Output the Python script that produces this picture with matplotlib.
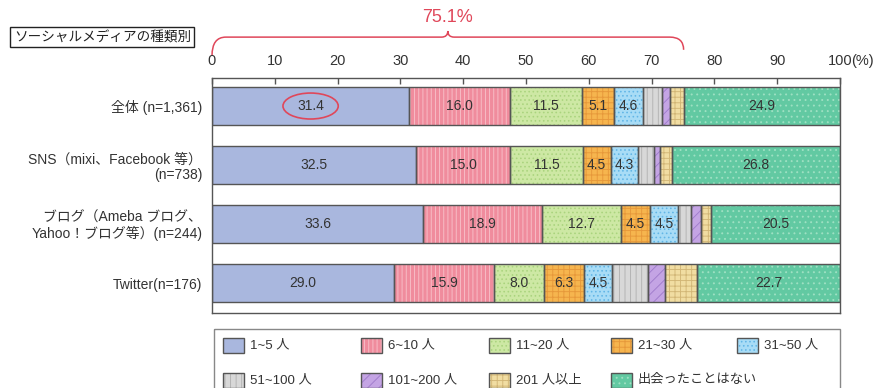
import matplotlib
matplotlib.use("Agg")
import matplotlib.pyplot as plt
from matplotlib.patches import Rectangle, Ellipse, PathPatch
from matplotlib.path import Path
import matplotlib.transforms as mtransforms

plt.rcParams['font.family'] = ['Liberation Sans', 'Noto Sans CJK JP', 'DejaVu Sans']
plt.rcParams['hatch.linewidth'] = 0.65

# ---------------- data ----------------
categories = ["全体 (n=1,361)",
              "SNS（mixi、Facebook 等）\n(n=738)",
              "ブログ（Ameba ブログ、\nYahoo！ブログ等）(n=244)",
              "Twitter(n=176)"]
series_names = ["1~5 人", "6~10 人", "11~20 人", "21~30 人", "31~50 人",
                "51~100 人", "101~200 人", "201 人以上", "出会ったことはない"]
v_1_5     = [31.4, 32.5, 33.6, 29.0]
v_6_10    = [16.0, 15.0, 18.9, 15.9]
v_11_20   = [11.5, 11.5, 12.7, 8.0]
v_21_30   = [5.1, 4.5, 4.5, 6.3]
v_31_50   = [4.6, 4.3, 4.5, 4.5]
v_51_100  = [3.1, 2.6, 2.0, 5.7]
v_101_200 = [1.2, 1.0, 1.6, 2.8]
v_201     = [2.2, 1.8, 1.7, 5.1]
v_never   = [24.9, 26.8, 20.5, 22.7]
series = [v_1_5, v_6_10, v_11_20, v_21_30, v_31_50,
          v_51_100, v_101_200, v_201, v_never]
labeled = [True, True, True, True, True, False, False, False, True]
x_ticks = [0, 10, 20, 30, 40, 50, 60, 70, 80, 90, 100]
x_tick_labels = ["0", "10", "20", "30", "40", "50", "60", "70", "80", "90", "100"]
bracket_total = 75.1
bracket_label = "75.1%"
box_title = "ソーシャルメディアの種類別"

# styles
faces = ["#a9b7de", "#f08c9d", "#cde8a4", "#f6b54e", "#a8dcf6",
         "#d8d8d8", "#c4a4e4", "#f1dda2", "#62c9a2"]
hatch_cols = ["#a9b7de", "#f8c0c9", "#aad47e", "#e6983a", "#62b6e6",
              "#b2b2b2", "#a07ccc", "#d2b676", "#9ee0c2"]
hatches = [None, "||||", "....", "+++", "....", "|||", "///", "+++", "..."]
edge = "#555555"
txt = "#333333"
red = "#e0475a"

W, H = 879, 388
fig = plt.figure(figsize=(W / 100, H / 100), dpi=100)
ax = fig.add_axes([212 / W, 1 - 313 / H, (840 - 212) / W, (313 - 78) / H])

ypos = list(range(len(categories)))
bar_h = 0.645
left = [0.0] * len(categories)
for i, vals in enumerate(series):
    ax.barh(ypos, vals, left=left, height=bar_h, color=faces[i],
            hatch=hatches[i], edgecolor=hatch_cols[i], linewidth=0, zorder=2)
    ax.barh(ypos, vals, left=left, height=bar_h, fill=False,
            edgecolor=edge, linewidth=1.0, zorder=3)
    if labeled[i]:
        for y, l, v in zip(ypos, left, vals):
            ax.text(l + v / 2, y, f"{v:.1f}", ha="center", va="center",
                    fontsize=10, color=txt, zorder=4)
    left = [a + b for a, b in zip(left, vals)]

# red ellipse around first value
ax.add_patch(Ellipse((v_1_5[0] / 2, 0), 8.8, 0.44, fill=False,
                     edgecolor=red, linewidth=1.2, zorder=5))

ax.set_xlim(0, 100)
ax.set_ylim(3.508, -0.475)
ax.set_yticks(ypos)
ax.set_yticklabels(categories, fontsize=10, color=txt, linespacing=1.1)
ax.tick_params(axis="y", length=0, pad=7)
ax.set_xticks(x_ticks)
ax.set_xticklabels(x_tick_labels, fontsize=10.5, color=txt)
ax.tick_params(axis="x", top=True, bottom=False, labeltop=True,
               labelbottom=False, direction="in", length=4, width=1,
               color=edge, pad=7)
for s in ax.spines.values():
    s.set_color(edge)
    s.set_linewidth(1.0)

blend = mtransforms.blended_transform_factory(ax.transData, ax.transAxes)
ax.annotate("(%)", xy=(100, 1), xycoords=blend, xytext=(8.2, 7),
            textcoords="offset points", ha="left", va="bottom",
            fontsize=10.5, color=txt)

# brace over 0..75.1
mid = bracket_total / 2
yl, yt, yp = 1.174, 1.174, 1.2
verts = [(0, 1.095), (0, yl), (2.2, yl),
         (mid - 1.0, yt), (mid, yt), (mid, yp), (mid, yt), (mid + 1.0, yt),
         (bracket_total - 2.2, yt), (bracket_total, yt), (bracket_total, 1.12)]
codes = [Path.MOVETO, Path.CURVE3, Path.CURVE3,
         Path.LINETO, Path.CURVE3, Path.CURVE3, Path.CURVE3, Path.CURVE3,
         Path.LINETO, Path.CURVE3, Path.CURVE3]
ax.add_patch(PathPatch(Path(verts, codes), transform=blend, fill=False,
                       edgecolor=red, linewidth=1.1, clip_on=False))
ax.text(mid, 1.22, bracket_label, transform=blend, ha="center", va="bottom",
        fontsize=13, color=red)

# overlay in pixel coordinates for title box and legend
ov = fig.add_axes([0, 0, 1, 1], facecolor="none")
ov.set_xlim(0, W)
ov.set_ylim(H, 0)
ov.axis("off")
ov.add_patch(Rectangle((10, 27), 184, 20, fill=False, edgecolor="#222222",
                       linewidth=1.0))
ov.text(14, 37.5, box_title, ha="left", va="center", fontsize=9.8,
        color="#222222")

ov.add_patch(Rectangle((214, 329), 626, 80, fill=False, edgecolor="#888888",
                       linewidth=1.0))
col_x = [223, 361, 489, 611, 737]
row_y = [345.5, 380]
for i, name in enumerate(series_names):
    r, c = divmod(i, 5)
    x0, yc = col_x[c], row_y[r]
    ov.add_patch(Rectangle((x0, yc - 7.5), 21, 15, facecolor=faces[i],
                           hatch=hatches[i], edgecolor=hatch_cols[i],
                           linewidth=0))
    ov.add_patch(Rectangle((x0, yc - 7.5), 21, 15, fill=False,
                           edgecolor=edge, linewidth=1.0))
    ov.text(x0 + 27, yc, name, ha="left", va="center", fontsize=9.5,
            color=txt)

fig.savefig("out.png", dpi=100)
